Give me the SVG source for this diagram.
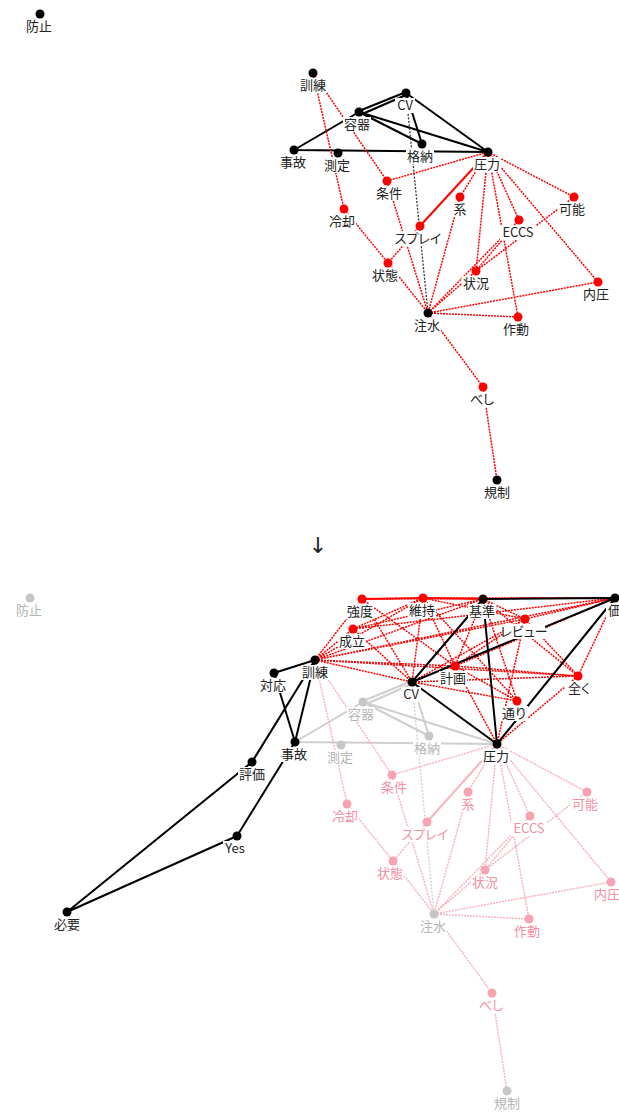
<svg xmlns="http://www.w3.org/2000/svg" width="619" height="1117" viewBox="0 0 619 1117">
<style>
.b{stroke:#000;stroke-width:2;fill:none}
.bd{stroke:#333;stroke-width:1.3;stroke-dasharray:2 1.5;fill:none}
.r{stroke:#f00;stroke-width:1.5;stroke-dasharray:2 1;fill:none}
.rs{stroke:#f00;stroke-width:2;fill:none}
.g{stroke:#cfcfcf;stroke-width:2;fill:none}
.gd{stroke:#cfcfcf;stroke-width:1.3;stroke-dasharray:2 1.5;fill:none}
.p{stroke:#f9b3bf;stroke-width:1.5;stroke-dasharray:2 1;fill:none}
.ps{stroke:#f9b3bf;stroke-width:2;fill:none}
.nb{fill:#000}.nr{fill:#f00}.ng{fill:#c6c6c6}.np{fill:#f7a3b2}
.bg{fill:#fff}
text{font-family:"Noto Sans CJK JP","Noto Sans",sans-serif;font-size:13px;text-anchor:middle;fill:#222;font-feature-settings:"palt"}
text.tg{fill:#b5b5b5}text.tp{fill:#f28fa2}
</style>
<g id="connectors-top">
<path class="b" d="M359 111L406 92M360 115L406 95M406 93L488 152M406 93L422 144M359 112L422 144M359 112L488 152M294 150L359 112M294 150L488 152"/>
<path class="bd" d="M406 93L428 313"/>
<path class="r" d="M313 73L344 209M313 73L387 181M387 181L488 152M387 181L428 313M344 209L388 263M420 226L388 263M460 197L488 152M460 197L428 313M388 263L428 313M488 152L476 271M488 152L518 317M488 152L519 220M488 152L574 197M488 152L598 282M519 220L476 271M574 197L476 271M428 313L476 271M428 313L519 220M428 313L598 282M428 313L518 317M428 313L483 387M483 387L497 480"/>
<path class="rs" d="M420 226L488 152"/>
</g>
<g id="nodes-top">
<g id="t-bousi"><rect class="bg" x="25" y="19" width="28" height="15"/><text x="39" y="31">防止</text><circle class="nb" cx="40" cy="14" r="4.5"/></g>
<g id="t-kunren"><rect class="bg" x="299" y="78" width="28" height="15"/><text x="313" y="90">訓練</text><circle class="nb" cx="313" cy="73" r="4.5"/></g>
<g id="t-cv"><rect class="bg" x="395" y="98" width="20" height="15"/><text x="405" y="110">CV</text><circle class="nb" cx="406" cy="93" r="4.5"/></g>
<g id="t-youki"><rect class="bg" x="343" y="117" width="28" height="15"/><text x="357" y="129">容器</text><circle class="nb" cx="359" cy="112" r="4.5"/></g>
<g id="t-jiko"><rect class="bg" x="279" y="155" width="28" height="15"/><text x="293" y="167">事故</text><circle class="nb" cx="294" cy="150" r="4.5"/></g>
<g id="t-sokutei"><rect class="bg" x="323" y="158" width="28" height="15"/><text x="337" y="170">測定</text><circle class="nb" cx="338" cy="153" r="4.5"/></g>
<g id="t-kakunou"><rect class="bg" x="406" y="149" width="28" height="15"/><text x="420" y="161">格納</text><circle class="nb" cx="422" cy="144" r="4.5"/></g>
<g id="t-atsuryoku"><rect class="bg" x="473" y="157" width="28" height="15"/><text x="487" y="169">圧力</text><circle class="nb" cx="488" cy="152" r="4.5"/></g>
<g id="t-jouken"><rect class="bg" x="375" y="186" width="28" height="15"/><text x="389" y="198">条件</text><circle class="nr" cx="387" cy="181" r="4.5"/></g>
<g id="t-kei"><rect class="bg" x="452" y="202" width="16" height="15"/><text x="460" y="214">系</text><circle class="nr" cx="460" cy="197" r="4.5"/></g>
<g id="t-kanou"><rect class="bg" x="558" y="202" width="28" height="15"/><text x="572" y="214">可能</text><circle class="nr" cx="574" cy="197" r="4.5"/></g>
<g id="t-reikyaku"><rect class="bg" x="328" y="214" width="28" height="15"/><text x="342" y="226">冷却</text><circle class="nr" cx="344" cy="209" r="4.5"/></g>
<g id="t-spray"><rect class="bg" x="397" y="231" width="42" height="15"/><text x="418" y="243">スプレイ</text><circle class="nr" cx="420" cy="226" r="4.5"/></g>
<g id="t-eccs"><rect class="bg" x="500" y="225" width="36" height="15"/><text x="518" y="237">ECCS</text><circle class="nr" cx="519" cy="220" r="4.5"/></g>
<g id="t-joutai"><rect class="bg" x="371" y="268" width="28" height="15"/><text x="385" y="280">状態</text><circle class="nr" cx="388" cy="263" r="4.5"/></g>
<g id="t-joukyou"><rect class="bg" x="462" y="276" width="28" height="15"/><text x="476" y="288">状況</text><circle class="nr" cx="476" cy="271" r="4.5"/></g>
<g id="t-naiatsu"><rect class="bg" x="582" y="287" width="28" height="15"/><text x="596" y="299">内圧</text><circle class="nr" cx="598" cy="282" r="4.5"/></g>
<g id="t-chuusui"><rect class="bg" x="413" y="318" width="28" height="15"/><text x="427" y="330">注水</text><circle class="nb" cx="428" cy="313" r="4.5"/></g>
<g id="t-sadou"><rect class="bg" x="502" y="322" width="28" height="15"/><text x="516" y="334">作動</text><circle class="nr" cx="518" cy="317" r="4.5"/></g>
<g id="t-beshi"><rect class="bg" x="469" y="392" width="26" height="15"/><text x="482" y="404">べし</text><circle class="nr" cx="483" cy="387" r="4.5"/></g>
<g id="t-kisei"><rect class="bg" x="483" y="485" width="28" height="15"/><text x="497" y="497">規制</text><circle class="nb" cx="497" cy="480" r="4.5"/></g>
</g>
<text x="318" y="553" style="font-family:'DejaVu Sans',sans-serif;font-size:22px;fill:#222">↓</text>
<g id="connectors-bottom">
<path class="g" d="M363 701L412 681M364 705L412 684M412 682L429 736M363 702L429 736M363 702L497 744M295 742L363 702M295 742L497 744"/>
<path class="gd" d="M412 682L434 914"/>
<path class="p" d="M315 660L347 804M315 660L392 775M392 775L497 744M392 775L434 914M347 804L393 861M427 822L393 861M468 792L497 744M468 792L434 914M393 861L434 914M497 744L485 870M497 744L529 919M497 744L530 816M497 744L587 792M497 744L611 882M530 816L485 870M587 792L485 870M434 914L485 870M434 914L530 816M434 914L611 882M434 914L529 919M434 914L492 993M492 993L507 1091"/>
<path class="ps" d="M427 822L497 744"/>
<path class="r" d="M315 660L362 599M315 660L353 629M315 660L423 598M315 660L483 599M315 660L525 619M315 660L455 666M315 660L412 682M315 660L578 676M315 660L615 598M362 599L412 682M362 599L455 666M353 629L423 598M353 629L483 599M353 629L412 682M353 629L615 598M423 598L412 682M423 598L455 666M423 598L517 701M423 598L525 619M423 598L615 598M483 599L455 666M483 599L525 619M483 599L578 676M483 599L517 701M525 619L412 682M525 619L455 666M525 619L578 676M525 619L497 744M525 619L615 598M455 666L578 676M455 666L615 598M455 666L517 701M455 666L497 744M412 682L578 676M412 682L517 701M578 676L615 598M578 676L497 744M362 599L615 598"/>
<path class="rs" d="M362 599L423 598M423 598L483 599"/>
<path class="b" d="M315 660L274 673M315 660L295 742M274 673L295 742M315 660L252 762M295 742L237 836M252 762L67 912M237 836L67 912M412 682L497 744M412 682L483 599M412 682L615 598M483 599L497 744M483 599L615 598M497 744L615 598"/>
</g>
<g id="nodes-bottom">
<g id="b-bousi"><rect class="bg" x="15" y="603" width="28" height="15"/><text class="tg" x="29" y="615">防止</text><circle class="ng" cx="30" cy="598" r="4.5"/></g>
<g id="b-youki"><rect class="bg" x="347" y="707" width="28" height="15"/><text class="tg" x="361" y="719">容器</text><circle class="ng" cx="363" cy="702" r="4.5"/></g>
<g id="b-sokutei"><rect class="bg" x="326" y="750" width="28" height="15"/><text class="tg" x="340" y="762">測定</text><circle class="ng" cx="341" cy="745" r="4.5"/></g>
<g id="b-kakunou"><rect class="bg" x="413" y="741" width="28" height="15"/><text class="tg" x="427" y="753">格納</text><circle class="ng" cx="429" cy="736" r="4.5"/></g>
<g id="b-chuusui"><rect class="bg" x="419" y="919" width="28" height="15"/><text class="tg" x="433" y="931">注水</text><circle class="ng" cx="434" cy="914" r="4.5"/></g>
<g id="b-kisei"><rect class="bg" x="493" y="1096" width="28" height="15"/><text class="tg" x="507" y="1108">規制</text><circle class="ng" cx="507" cy="1091" r="4.5"/></g>
<g id="b-jouken"><rect class="bg" x="380" y="780" width="28" height="15"/><text class="tp" x="394" y="792">条件</text><circle class="np" cx="392" cy="775" r="4.5"/></g>
<g id="b-kei"><rect class="bg" x="460" y="797" width="16" height="15"/><text class="tp" x="468" y="809">系</text><circle class="np" cx="468" cy="792" r="4.5"/></g>
<g id="b-kanou"><rect class="bg" x="571" y="797" width="28" height="15"/><text class="tp" x="585" y="809">可能</text><circle class="np" cx="587" cy="792" r="4.5"/></g>
<g id="b-reikyaku"><rect class="bg" x="331" y="809" width="28" height="15"/><text class="tp" x="345" y="821">冷却</text><circle class="np" cx="347" cy="804" r="4.5"/></g>
<g id="b-spray"><rect class="bg" x="404" y="827" width="42" height="15"/><text class="tp" x="425" y="839">スプレイ</text><circle class="np" cx="427" cy="822" r="4.5"/></g>
<g id="b-eccs"><rect class="bg" x="511" y="821" width="36" height="15"/><text class="tp" x="529" y="833">ECCS</text><circle class="np" cx="530" cy="816" r="4.5"/></g>
<g id="b-joutai"><rect class="bg" x="376" y="866" width="28" height="15"/><text class="tp" x="390" y="878">状態</text><circle class="np" cx="393" cy="861" r="4.5"/></g>
<g id="b-joukyou"><rect class="bg" x="471" y="875" width="28" height="15"/><text class="tp" x="485" y="887">状況</text><circle class="np" cx="485" cy="870" r="4.5"/></g>
<g id="b-naiatsu"><rect class="bg" x="593" y="887" width="28" height="15"/><text class="tp" x="607" y="899">内圧</text><circle class="np" cx="611" cy="882" r="4.5"/></g>
<g id="b-sadou"><rect class="bg" x="513" y="924" width="28" height="15"/><text class="tp" x="527" y="936">作動</text><circle class="np" cx="529" cy="919" r="4.5"/></g>
<g id="b-beshi"><rect class="bg" x="478" y="998" width="26" height="15"/><text class="tp" x="491" y="1010">べし</text><circle class="np" cx="492" cy="993" r="4.5"/></g>
<g id="b-kyoudo"><rect class="bg" x="346" y="604" width="28" height="15"/><text x="360" y="616">強度</text><circle class="nr" cx="362" cy="599" r="4.5"/></g>
<g id="b-iji"><rect class="bg" x="408" y="603" width="28" height="15"/><text x="422" y="615">維持</text><circle class="nr" cx="423" cy="598" r="4.5"/></g>
<g id="b-kijun"><rect class="bg" x="468" y="604" width="28" height="15"/><text x="482" y="616">基準</text><circle class="nb" cx="483" cy="599" r="4.5"/></g>
<g id="b-ka"><rect class="bg" x="606" y="603" width="13" height="15"/><text x="608" y="615" style="text-anchor:start">価</text><circle class="nb" cx="615" cy="598" r="4.5"/></g>
<g id="b-review"><rect class="bg" x="503" y="624" width="42" height="15"/><text x="524" y="636">レビュー</text><circle class="nr" cx="525" cy="619" r="4.5"/></g>
<g id="b-seiritsu"><rect class="bg" x="338" y="634" width="28" height="15"/><text x="352" y="646">成立</text><circle class="nr" cx="353" cy="629" r="4.5"/></g>
<g id="b-keikaku"><rect class="bg" x="439" y="671" width="28" height="15"/><text x="453" y="683">計画</text><circle class="nr" cx="455" cy="666" r="4.5"/></g>
<g id="b-mattaku"><rect class="bg" x="565" y="681" width="28" height="15"/><text x="579" y="693">全く</text><circle class="nr" cx="578" cy="676" r="4.5"/></g>
<g id="b-toori"><rect class="bg" x="500" y="706" width="28" height="15"/><text x="514" y="718">通り</text><circle class="nr" cx="517" cy="701" r="4.5"/></g>
<g id="b-kunren"><rect class="bg" x="301" y="665" width="28" height="15"/><text x="315" y="677">訓練</text><circle class="nb" cx="315" cy="660" r="4.5"/></g>
<g id="b-cv"><rect class="bg" x="401" y="687" width="20" height="15"/><text x="411" y="699">CV</text><circle class="nb" cx="412" cy="682" r="4.5"/></g>
<g id="b-jiko"><rect class="bg" x="280" y="747" width="28" height="15"/><text x="294" y="759">事故</text><circle class="nb" cx="295" cy="742" r="4.5"/></g>
<g id="b-atsuryoku"><rect class="bg" x="482" y="749" width="28" height="15"/><text x="496" y="761">圧力</text><circle class="nb" cx="497" cy="744" r="4.5"/></g>
<g id="b-taiou"><rect class="bg" x="259" y="678" width="28" height="15"/><text x="273" y="690">対応</text><circle class="nb" cx="274" cy="673" r="4.5"/></g>
<g id="b-hyouka"><rect class="bg" x="238" y="767" width="28" height="15"/><text x="252" y="779">評価</text><circle class="nb" cx="252" cy="762" r="4.5"/></g>
<g id="b-yes"><rect class="bg" x="223" y="841" width="24" height="15"/><text x="235" y="853">Yes</text><circle class="nb" cx="237" cy="836" r="4.5"/></g>
<g id="b-hitsuyou"><rect class="bg" x="53" y="917" width="28" height="15"/><text x="67" y="929">必要</text><circle class="nb" cx="67" cy="912" r="4.5"/></g>
</g>
</svg>
